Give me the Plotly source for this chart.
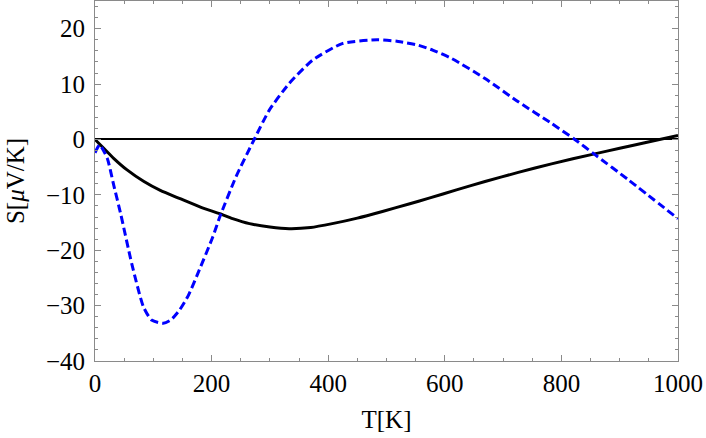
import plotly.graph_objects as go

# --- Data ---
T_BLACK = [0, 15, 32, 55, 84, 112, 146, 183, 214, 236, 265, 300, 333, 370,
           407, 450, 493, 540, 573, 620, 669, 726, 783, 857, 900, 943, 1000]
S_BLACK = [0, -1.6, -3.4, -5.5, -7.6, -9.2, -10.7, -12.3, -13.4, -14.3, -15.2,
           -15.8, -16.1, -15.9, -15.2, -14.2, -13.0, -11.6, -10.6, -9.1, -7.6, -5.95,
           -4.4, -2.6, -1.6, -0.6, 0.7]

T_BLUE = [0, 8, 21, 32, 44, 63, 83, 97, 117, 130, 145, 160, 174, 202, 214, 242, 273,
          299, 333, 373, 424, 484, 520, 555, 580, 612, 669, 726, 783, 823, 857, 915, 1000]
S_BLUE = [-2.4, -1.0, -3.4, -8.2, -13.4, -22.4, -30.2, -32.6, -33.2, -32.6, -30.8,
          -28.2, -24.8, -17.6, -14.0, -6.7, 0.0, 5.3, 10.1, 14.3, 17.3, 18.0, 17.7,
          17.0, 16.1, 14.6, 11.0, 6.8, 2.9, 0.0, -2.7, -7.3, -14.3]

X_TICKS = [0, 200, 400, 600, 800, 1000]
Y_TICKS = [-40, -30, -20, -10, 0, 10, 20]
Y_TICKTEXT = ["\u221240", "\u221230", "\u221220", "\u221210", "0", "10", "20"]

FRAME_COLOR = "#8a8a8a"
FONT = "Liberation Serif"

fig = go.Figure()

fig.add_trace(go.Scatter(
    x=T_BLACK, y=S_BLACK,
    mode="lines",
    line=dict(color="black", width=3, shape="spline", smoothing=0.6),
    showlegend=False,
))

fig.add_trace(go.Scatter(
    x=T_BLUE, y=S_BLUE,
    mode="lines",
    line=dict(color="#0000ff", width=3, dash="8px,4px", shape="spline", smoothing=0.6),
    showlegend=False,
))

axis_common = dict(
    showline=True, linecolor=FRAME_COLOR, linewidth=1,
    mirror="allticks", ticks="inside", ticklen=6, tickwidth=1, tickcolor=FRAME_COLOR,
    showgrid=False, automargin=False,
    tickfont=dict(family=FONT, size=25, color="black"),
)

fig.update_xaxes(
    range=[0, 1000], tickvals=X_TICKS, zeroline=False,
    minor=dict(dtick=50, ticks="inside", ticklen=3, tickcolor=FRAME_COLOR, showgrid=False),
    title=dict(text="T[K]", font=dict(family=FONT, size=25, color="black"), standoff=14),
    **axis_common,
)
fig.update_yaxes(
    range=[-40, 25], tickvals=Y_TICKS, ticktext=Y_TICKTEXT,
    zeroline=True, zerolinecolor="black", zerolinewidth=1.5,
    minor=dict(dtick=2, ticks="inside", ticklen=3, tickcolor=FRAME_COLOR, showgrid=False),
    ticklabelstandoff=4,
    title=dict(text="S[<i>\u03bc</i>V/K]", font=dict(family=FONT, size=25, color="black"), standoff=14),
    **axis_common,
)

fig.update_layout(
    width=706, height=438,
    margin=dict(l=95, r=28, t=1, b=77),
    plot_bgcolor="white", paper_bgcolor="white",
)

# drop the browser's default 8px body margin so the figure sits at the page corner
fig.write_html("out.html", config={"displayModeBar": False},
               post_script="document.body.style.margin='0';")
